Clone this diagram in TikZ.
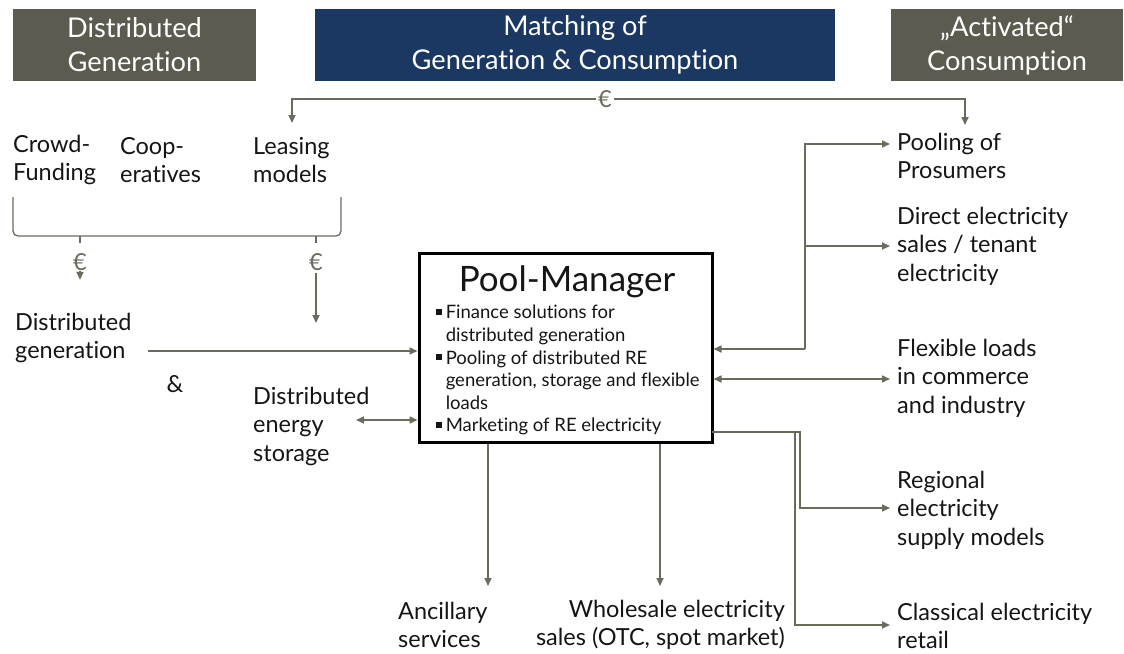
\documentclass[tikz,border=0pt]{standalone}
\usepackage{fontspec}
\setmainfont{Lato}[Ligatures=NoCommon]
\usetikzlibrary{arrows.meta,positioning,calc}
\definecolor{hdrgray}{HTML}{5C5B4F}
\definecolor{hdrblue}{HTML}{1A3862}
\definecolor{arrgray}{HTML}{6B6B5D}
\definecolor{txt}{HTML}{151515}
\tikzset{
  hdr/.style={fill=#1, text=white, minimum height=72pt, inner sep=0pt,
              align=center, font=\fontsize{27.2}{34}\selectfont},
  lbl/.style={inner sep=0pt, align=left, text=txt,
              font=\fontsize{23.5}{28.5}\selectfont},
  arr/.style={draw=arrgray, line width=1.6pt,
              -{Triangle[length=8pt,width=7pt]}},
  arrb/.style={draw=arrgray, line width=1.6pt,
               {Triangle[length=8pt,width=7pt]}-{Triangle[length=8pt,width=7pt]}},
  ln/.style={draw=arrgray, line width=1.6pt},
  euro/.style={inner sep=2pt, text=arrgray, font=\fontsize{23.5}{28}\selectfont}
}
\newcommand\sqbul{\rule[0.22em]{0.3em}{0.3em}}
\begin{document}
\begin{tikzpicture}[x=1pt,y=-1pt]
  \useasboundingbox (0,0) rectangle (1124,653);
  % header
  \node[hdr=hdrgray, minimum width=243pt] (hgen) at (134.5,45) {Distributed\\Generation};
  \node[hdr=hdrblue, minimum width=520pt] (hmatch) at (575,45) {Matching of\\Generation \& Consumption};
  \node[hdr=hdrgray, minimum width=232pt] (hcons) at (1007,45) {„Activated“\\Consumption};

  % financing
  \node[lbl, anchor=west] (crowd) at (13,160) {Crowd-\\Funding};
  \node[lbl, anchor=west] (coop) at (120,160) {Coop-\\eratives};
  \node[lbl, anchor=west] (leasing) at (253,160) {Leasing\\models};
  \draw[ln, line width=1.3pt, rounded corners=5pt] (13,197) -- (13,236) -- (341,236) -- (341,197);
  \draw[ln, line width=1.3pt] (80,236) -- (80,243) (316,236) -- (316,243);
  \node[euro] (eA) at (80,262) {€};
  \node[euro] (eB) at (316,262) {€};
  \draw[arr] (eA.south) ++(0,-2) -- ++(0,9);
  \coordinate (genIn) at (316,323);
  \draw[arr] (eB.south) -- (genIn);

  \node[euro] (eTop) at (605,99) {€};
  \coordinate (leasTop) at (292,123);
  \coordinate (poolTop) at (965,125);
  \draw[arr] (eTop) -| (leasTop);
  \draw[arr] (eTop) -| (poolTop);

  % pool manager
  \node[draw=black, line width=3pt, minimum width=293pt, minimum height=189pt,
        inner sep=0pt] (pm) at (565.5,347.5) {};
  \node[text=txt, font=\fontsize{35}{38}\selectfont, inner sep=0pt] (pmtitle) at (567,282) {Pool-Manager};
  \node[text=txt, align=left, anchor=north west, inner sep=0pt,
        font=\fontsize{18.5}{22.6}\selectfont] (pmlist) at (436,305)
    {\sqbul\hspace{4pt}Finance solutions for\\
     \phantom{\sqbul}\hspace{4pt}distributed generation\\
     \sqbul\hspace{4pt}Pooling of distributed RE\\
     \phantom{\sqbul}\hspace{4pt}generation, storage and flexible\\
     \phantom{\sqbul}\hspace{4pt}loads\\
     \sqbul\hspace{4pt}Marketing of RE electricity};

  % left inputs
  \node[lbl, anchor=west] (distgen) at (15,338) {Distributed\\generation};
  \node[lbl] (amp) at (175,384) {\&};
  \node[lbl, anchor=west] (storage) at (253,426) {Distributed\\energy\\storage};
  \coordinate (dgOut) at (148,351);
  \draw[arr] (dgOut) -- (dgOut -| pm.west);
  \coordinate (stOut) at (356,420);
  \draw[arrb] (stOut) -- (stOut -| pm.west);

  % right outputs
  \node[lbl, anchor=west] (pooling) at (897,156) {Pooling of\\Prosumers};
  \node[lbl, anchor=west] (direct) at (897,246) {Direct electricity\\sales / tenant\\electricity};
  \node[lbl, anchor=west] (flex) at (897,378) {Flexible loads\\in commerce\\and industry};
  \node[lbl, anchor=west] (regional) at (897,510) {Regional\\electricity\\supply models};
  \node[lbl, anchor=west] (classical) at (897,626) {Classical electricity\\retail};
  \coordinate (poolIn) at (890,144);
  \coordinate (directIn) at (890,246);
  \coordinate (flexIn) at (890,379);
  \coordinate (regIn) at (890,508);
  \coordinate (clsIn) at (890,625);
  \coordinate (bus) at (805,349);
  \draw[arr] (bus) |- (poolIn);
  \draw[arr] (bus) |- (directIn);
  \draw[arr] (bus) -- (bus -| pm.east);
  \draw[arrb] (flexIn -| pm.east) -- (flexIn);
  \coordinate (pmOut) at (712,432);
  \draw[arr] (pmOut) -- ++(88,0) |- (regIn);
  \draw[arr] (pmOut) -- ++(83,0) |- (clsIn);

  % bottom outputs
  \node[lbl, anchor=west] (ancillary) at (398,625) {Ancillary\\services};
  \node[lbl, anchor=east, align=right] (wholesale) at (785,625) {Wholesale electricity\\sales (OTC, spot market)};
  \coordinate (ancIn) at (488,586);
  \coordinate (whIn) at (660,586);
  \draw[arr] (ancIn |- pm.south) -- (ancIn);
  \draw[arr] (whIn |- pm.south) -- (whIn);
\end{tikzpicture}
\end{document}
